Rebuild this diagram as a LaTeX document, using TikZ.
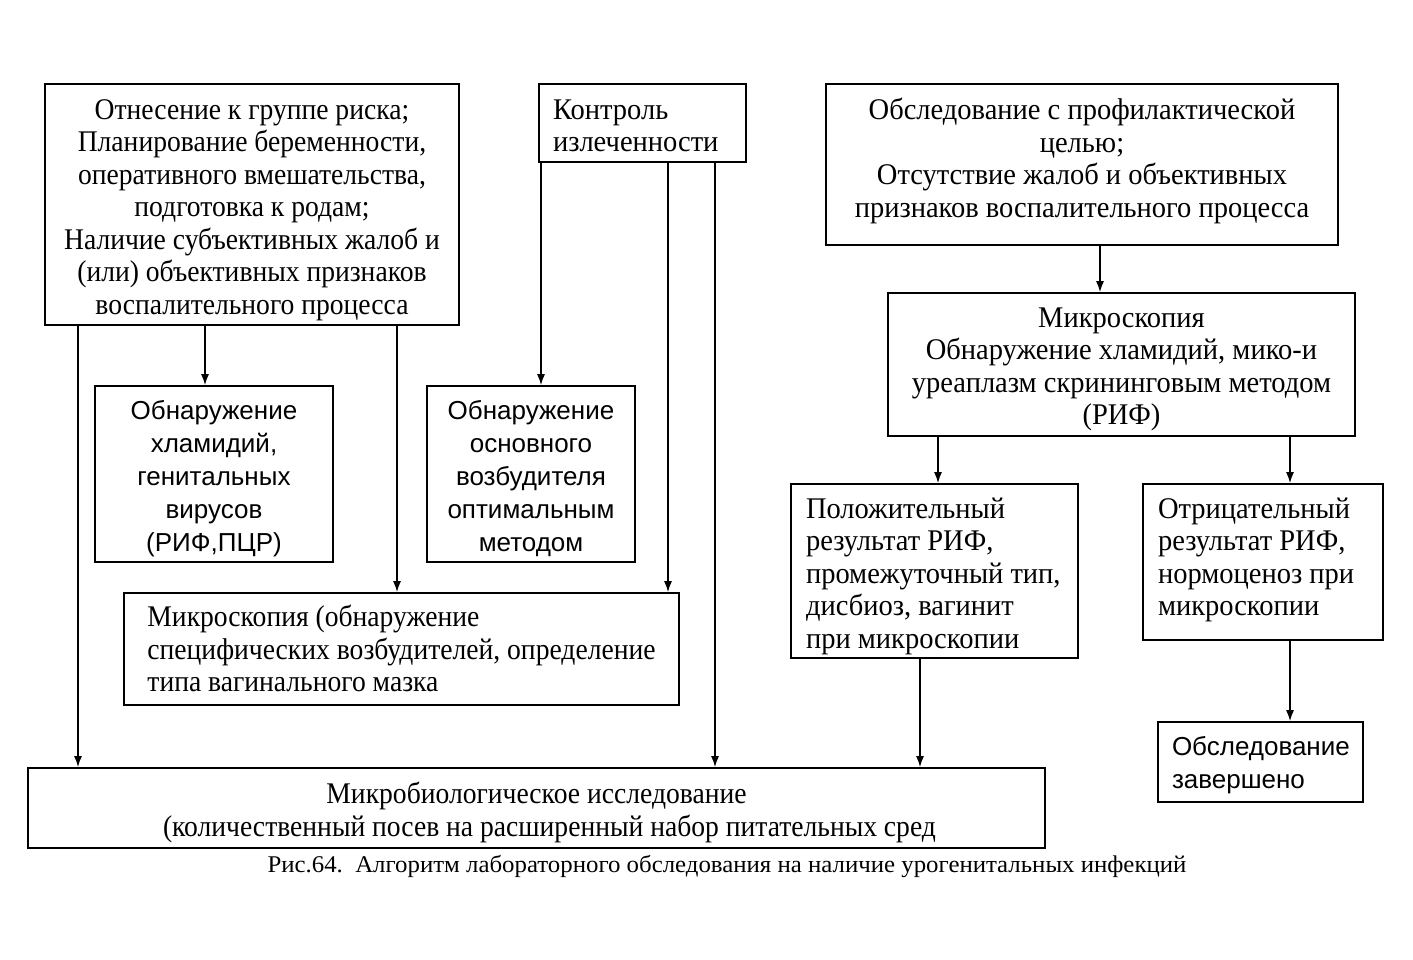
\documentclass[tikz,border=0pt]{standalone}
\usepackage{fontspec}
\setmainfont{Liberation Serif}[FakeStretch=0.95]
\newfontfamily\serifA{Liberation Serif}[FakeStretch=0.92]
\newfontfamily\serifK{Liberation Serif}[FakeStretch=0.92]
\newfontfamily\capf{Liberation Serif}[FakeStretch=1.035]
\newfontfamily\sansf{Liberation Sans}
\usetikzlibrary{arrows.meta}
\newcommand\firstln[2]{\makebox[#1][l]{#2}}
% invisible struts fixing the height of the first line and the depth of the last one
\newcommand\topgap[1]{\rule{0pt}{#1pt}}
\newcommand\botgap[1]{\rule[-#1pt]{0pt}{#1pt}}
\tikzset{
  box/.style={draw, line width=1.6pt, rectangle, inner sep=0pt, font=\fontsize{30}{32.5}\selectfont},
  cbox/.style={box, align=center},
  lbox/.style={box, align=left},
  sbox/.style={box, align=center, font=\sansf\fontsize{26}{33}\selectfont},
  arr/.style={line width=1.6pt, -{Latex[length=11pt,width=8pt]}},
  capt/.style={font=\capf\fontsize{24}{26}\selectfont, inner sep=0pt}
}
\begin{document}
\begin{tikzpicture}[x=1pt,y=-1pt]
\useasboundingbox (0,0) rectangle (1413,960);
\fill[white] (0,0) rectangle (1413,960);

\node[cbox, minimum width=414pt, minimum height=241pt, font=\serifA\fontsize{30}{32.5}\selectfont] (A) at (252,204.5)
 {\topgap{32}Отнесение к группе риска;\\ Планирование беременности,\\ оперативного вмешательства,\\ подготовка к родам;\\ Наличие субъективных жалоб и\\ (или) объективных признаков\\ воспалительного процесса\botgap{8}};

\node[lbox, minimum width=207pt, minimum height=78pt] (B) at (642.5,123)
 {\topgap{33.5}\firstln{179pt}{Контроль}\\ излеченности\botgap{8}};

\node[cbox, minimum width=512pt, minimum height=161pt] (C) at (1082,164.5)
 {\topgap{23}Обследование с профилактической\\ целью;\\ Отсутствие жалоб и объективных\\ признаков воспалительного процесса\botgap{15}};

\node[cbox, minimum width=467pt, minimum height=143pt] (D) at (1121.5,364.5)
 {\topgap{30.5}Микроскопия\\ Обнаружение хламидий, мико-и\\ уреаплазм скрининговым методом\\ (РИФ)\botgap{8}};

\node[sbox, minimum width=238pt, minimum height=176pt] (E) at (214,474)
 {\topgap{31.5}Обнаружение\\ хламидий,\\ генитальных\\ вирусов\\ (РИФ,ПЦР)\botgap{8}};

\node[sbox, minimum width=208pt, minimum height=176pt] (F) at (531,474)
 {\topgap{31.5}Обнаружение\\ основного\\ возбудителя\\ оптимальным\\ методом\botgap{8}};

\node[lbox, minimum width=555pt, minimum height=112pt, font=\serifK\fontsize{30}{32.5}\selectfont] (G) at (401.5,649)
 {\topgap{28.5}\firstln{507pt}{Микроскопия (обнаружение}\\ специфических возбудителей, определение\\ типа вагинального мазка\botgap{8}};

\node[lbox, minimum width=287pt, minimum height=174pt] (H) at (934.5,571)
 {\topgap{32}\firstln{257pt}{Положительный}\\ результат РИФ,\\ промежуточный тип,\\ дисбиоз, вагинит\\ при микроскопии\botgap{8}};

\node[lbox, minimum width=240pt, minimum height=156pt] (I) at (1263,562)
 {\topgap{23.5}\firstln{210pt}{Отрицательный}\\ результат РИФ,\\ нормоценоз при\\ микроскопии\botgap{14}};

\node[lbox, minimum width=205pt, minimum height=80pt, font=\sansf\fontsize{26}{33}\selectfont] (J) at (1260.5,762)
 {\topgap{27}\firstln{177pt}{Обследование}\\ завершено\botgap{8}};

\node[cbox, minimum width=1017pt, minimum height=80pt, font=\serifK\fontsize{30}{32.5}\selectfont] (K) at (536.5,808)
 {\topgap{32}Микробиологическое исследование\\ \hspace*{26pt}(количественный посев на расширенный набор питательных сред\botgap{8}};

\node[capt] (cap) at (727,866)
 {Рис.64.\ \ Алгоритм лабораторного обследования на наличие урогенитальных инфекций};

\coordinate (x78) at (78,0);
\coordinate (x205) at (205,0);
\coordinate (x397) at (397,0);
\coordinate (x541) at (541,0);
\coordinate (x668) at (668,0);
\coordinate (x715) at (715,0);
\coordinate (x1100) at (1100,0);
\coordinate (x938) at (938,0);
\coordinate (x1290) at (1290,0);
\coordinate (x920) at (920,0);

\draw[arr] (A.south -| x78) -- (K.north -| x78);
\draw[arr] (A.south -| x205) -- (E.north -| x205);
\draw[arr] (A.south -| x397) -- (G.north -| x397);
\draw[arr] (B.south -| x541) -- (F.north -| x541);
\draw[arr] (B.south -| x668) -- (G.north -| x668);
\draw[arr] (B.south -| x715) -- (K.north -| x715);
\draw[arr] (C.south -| x1100) -- (D.north -| x1100);
\draw[arr] (D.south -| x938) -- (H.north -| x938);
\draw[arr] (D.south -| x1290) -- (I.north -| x1290);
\draw[arr] (H.south -| x920) -- (K.north -| x920);
\draw[arr] (I.south -| x1290) -- (J.north -| x1290);
\end{tikzpicture}
\end{document}
